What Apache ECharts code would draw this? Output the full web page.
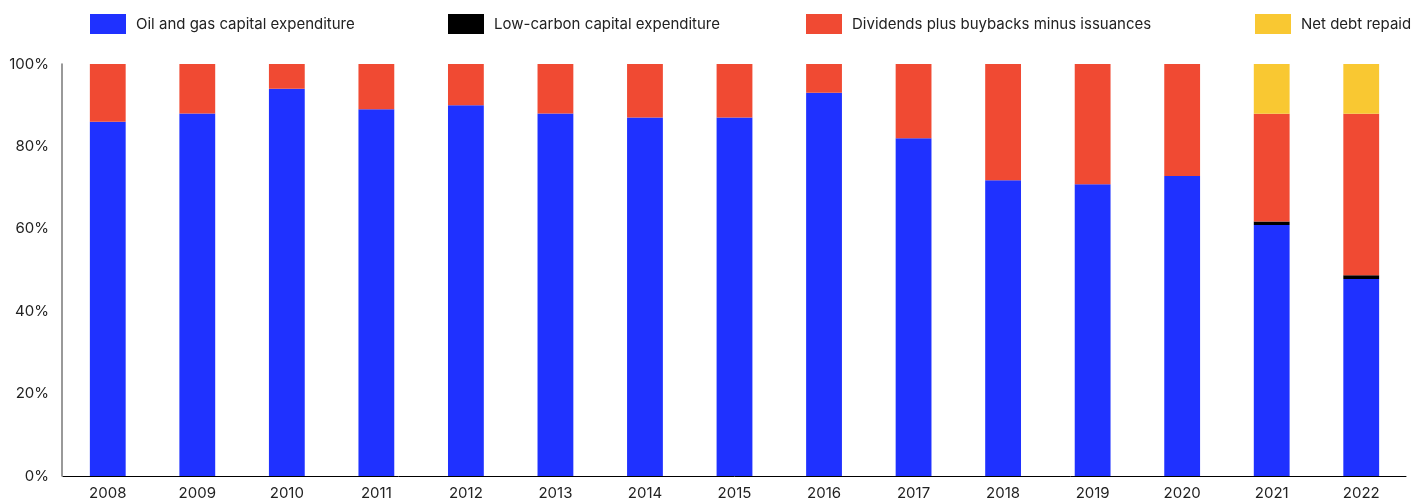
<!DOCTYPE html>
<html>
<head>
<meta charset="utf-8">
<script src="https://cdn.jsdelivr.net/npm/echarts@6/dist/echarts.min.js"></script>
<style>
  html, body { margin: 0; padding: 0; background: #fff; }
  #chart { width: 1428px; height: 503px; }
</style>
</head>
<body>
<div id="chart"></div>
<script>
// ----- data (share of spending, %) -----
var years = ['2008', '2009', '2010', '2011', '2012', '2013', '2014', '2015',
             '2016', '2017', '2018', '2019', '2020', '2021', '2022'];
var oilGasCapex   = [86, 88, 94, 89, 90, 88, 87, 87, 93, 82, 71.8, 70.8, 72.8, 60.9, 47.8];
var lowCarbonCapex = [0, 0, 0, 0, 0, 0, 0, 0, 0, 0, 0, 0, 0, 0.9, 0.9];
var dividendsBuybacks = [14, 12, 6, 11, 10, 12, 13, 13, 7, 18, 28.2, 29.2, 27.2, 26.1, 39.2];
var netDebtRepaid = [0, 0, 0, 0, 0, 0, 0, 0, 0, 0, 0, 0, 0, 12.1, 12.1];
var yTicks = [0, 20, 40, 60, 80, 100];

var names = ['Oil and gas capital expenditure', 'Low-carbon capital expenditure',
             'Dividends plus buybacks minus issuances', 'Net debt repaid'];
var colors = ['#1f31ff', '#000000', '#f04a33', '#f9c832'];
var legendLeft = [85, 443, 801, 1250];

var chart = echarts.init(document.getElementById('chart'));

function bar(i, data) {
    return {
        name: names[i],
        type: 'bar',
        stack: 'total',
        barWidth: '40%',
        data: data,
        itemStyle: { color: colors[i] },
        emphasis: { disabled: true }
    };
}

var option = {
    animation: false,
    textStyle: { fontFamily: 'Inter, "Noto Sans", sans-serif' },
    legend: names.map(function (n, i) {
        return {
            data: [n],
            left: legendLeft[i],
            top: 9,
            itemWidth: 36,
            itemHeight: 20,
            itemGap: 10,
            icon: 'rect',
            selectedMode: false,
            textStyle: { fontSize: 15, color: '#222', fontFamily: 'Inter, sans-serif', padding: [0, 0, 0, 5] }
        };
    }),
    grid: { left: 63, right: 22, top: 64, bottom: 27, containLabel: false },
    xAxis: {
        type: 'category',
        data: years,
        axisLine: { lineStyle: { color: '#000', width: 1 } },
        axisTick: { show: false },
        axisLabel: { fontSize: 15, color: '#222', margin: 10, fontFamily: 'Inter, sans-serif' }
    },
    yAxis: {
        type: 'value',
        min: yTicks[0],
        max: yTicks[yTicks.length - 1],
        interval: 20,
        offset: 1,
        axisLine: { show: true, lineStyle: { color: '#777', width: 1.5 } },
        axisTick: { show: false },
        splitLine: { show: false },
        axisLabel: {
            fontSize: 15, color: '#222', margin: 13, fontFamily: 'Inter, sans-serif',
            formatter: function (v) { return v + '%'; }
        }
    },
    series: [
        bar(0, oilGasCapex),
        bar(1, lowCarbonCapex),
        bar(2, dividendsBuybacks),
        bar(3, netDebtRepaid)
    ]
};

chart.setOption(option);
</script>
</body>
</html>
